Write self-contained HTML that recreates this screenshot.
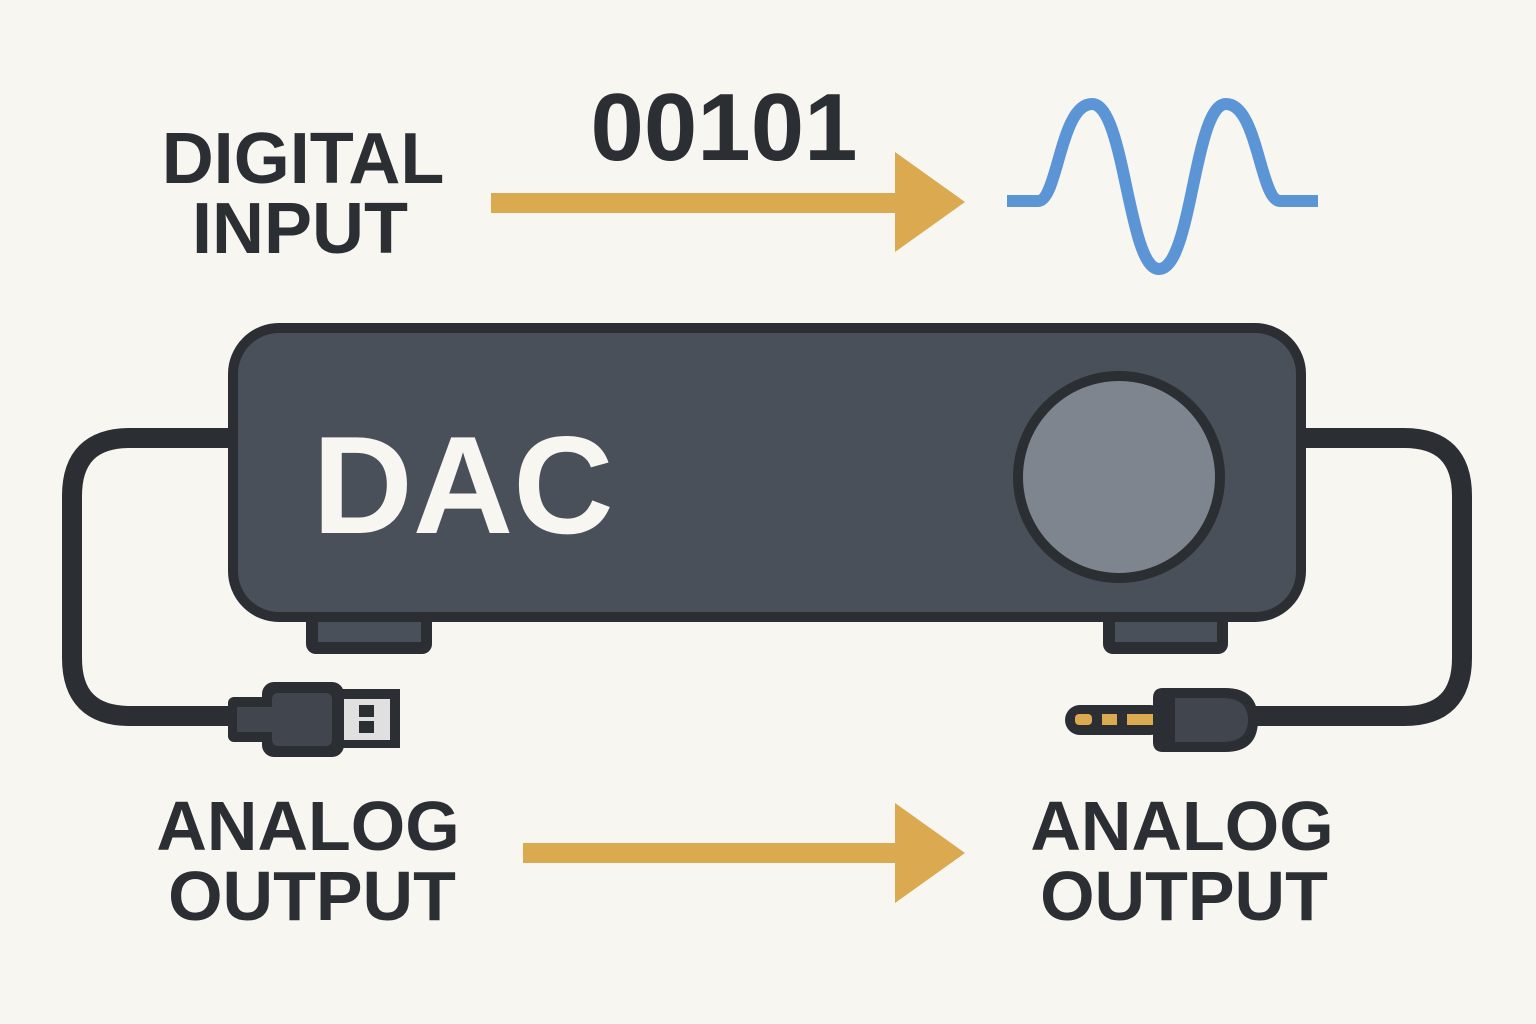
<!DOCTYPE html>
<html><head><meta charset="utf-8"><style>
html,body{margin:0;padding:0;background:#f8f6f1;}
svg{display:block}
text{font-family:"Liberation Sans","DejaVu Sans",sans-serif;font-weight:bold;}
</style></head><body>
<svg width="1536" height="1024" viewBox="0 0 1536 1024" xmlns="http://www.w3.org/2000/svg">
<rect width="1536" height="1024" fill="#f8f6f1"/>
<text x="303" y="183" font-size="72" fill="#2b2f33" text-anchor="middle">DIGITAL</text>
<text x="300" y="253" font-size="72" fill="#2b2f33" text-anchor="middle">INPUT</text>
<text x="724" y="160" font-size="96" fill="#2b2f33" text-anchor="middle">00101</text>
<rect x="491" y="193" width="406" height="20" fill="#dba94f"/>
<polygon points="895,152 965,202 895,252" fill="#dba94f"/>
<path d="M1007,201 H1038 C1058,201 1060,104 1092,104 C1125,104 1128,269 1159,269 C1192,269 1194,104 1226,104 C1258,104 1260,201 1280,201 H1318" fill="none" stroke="#5b95d6" stroke-width="12"/>
<path d="M232,438 H130 Q72,438 72,496 V658 Q72,716 130,716 H240" fill="none" stroke="#2b2f33" stroke-width="20"/>
<path d="M1302,438 H1404 Q1462,438 1462,496 V658 Q1462,716 1404,716 H1250" fill="none" stroke="#2b2f33" stroke-width="20"/>
<rect x="306" y="600" width="126" height="54" rx="10" fill="#2b2f33"/>
<rect x="318" y="612" width="103" height="30" fill="#4a5059"/>
<rect x="1103" y="600" width="125" height="54" rx="10" fill="#2b2f33"/>
<rect x="1115" y="612" width="102" height="30" fill="#4a5059"/>
<rect x="233" y="328" width="1068" height="289" rx="46" fill="#4a5059" stroke="#2b2f33" stroke-width="10"/>
<text x="463" y="533" font-size="139" fill="#f8f6f1" text-anchor="middle">DAC</text>
<circle cx="1119" cy="477" r="106" fill="#2b2f33"/>
<circle cx="1119" cy="477" r="96" fill="#7e858e"/>
<rect x="228" y="697" width="50" height="45" rx="6" fill="#2b2f33"/>
<rect x="262" y="682" width="82" height="75" rx="12" fill="#2b2f33"/>
<rect x="237" y="707" width="40" height="25" fill="#41464e"/>
<rect x="272" y="693" width="60" height="53" rx="6" fill="#41464e"/>
<rect x="340" y="689" width="60" height="59" fill="#2b2f33"/>
<rect x="344" y="699" width="46" height="41" fill="#e0e0e0"/>
<rect x="359" y="705" width="15" height="12" fill="#2b2f33"/>
<rect x="359" y="721" width="15" height="12" fill="#2b2f33"/>
<rect x="1065" y="705" width="100" height="30" rx="15" fill="#2b2f33"/>
<rect x="1075" y="714" width="17" height="11" rx="4" fill="#dba94f"/>
<rect x="1102" y="714" width="15" height="11" fill="#dba94f"/>
<rect x="1127" y="714" width="38" height="11" fill="#dba94f"/>
<path d="M1163,688 H1225 Q1258,688 1258,720 Q1258,752 1225,752 H1163 Q1153,752 1153,742 V698 Q1153,688 1163,688 Z" fill="#2b2f33"/>
<path d="M1175,698 H1222 Q1248,698 1248,720 Q1248,742 1222,742 H1175 Z" fill="#41464e"/>
<text x="308" y="850" font-size="70" fill="#2b2f33" text-anchor="middle">ANALOG</text>
<text x="312" y="920" font-size="70" fill="#2b2f33" text-anchor="middle">OUTPUT</text>
<rect x="523" y="843" width="374" height="20" fill="#dba94f"/>
<polygon points="895,803 965,853 895,903" fill="#dba94f"/>
<text x="1182" y="850" font-size="70" fill="#2b2f33" text-anchor="middle">ANALOG</text>
<text x="1184" y="920" font-size="70" fill="#2b2f33" text-anchor="middle">OUTPUT</text>
</svg>
</body></html>
